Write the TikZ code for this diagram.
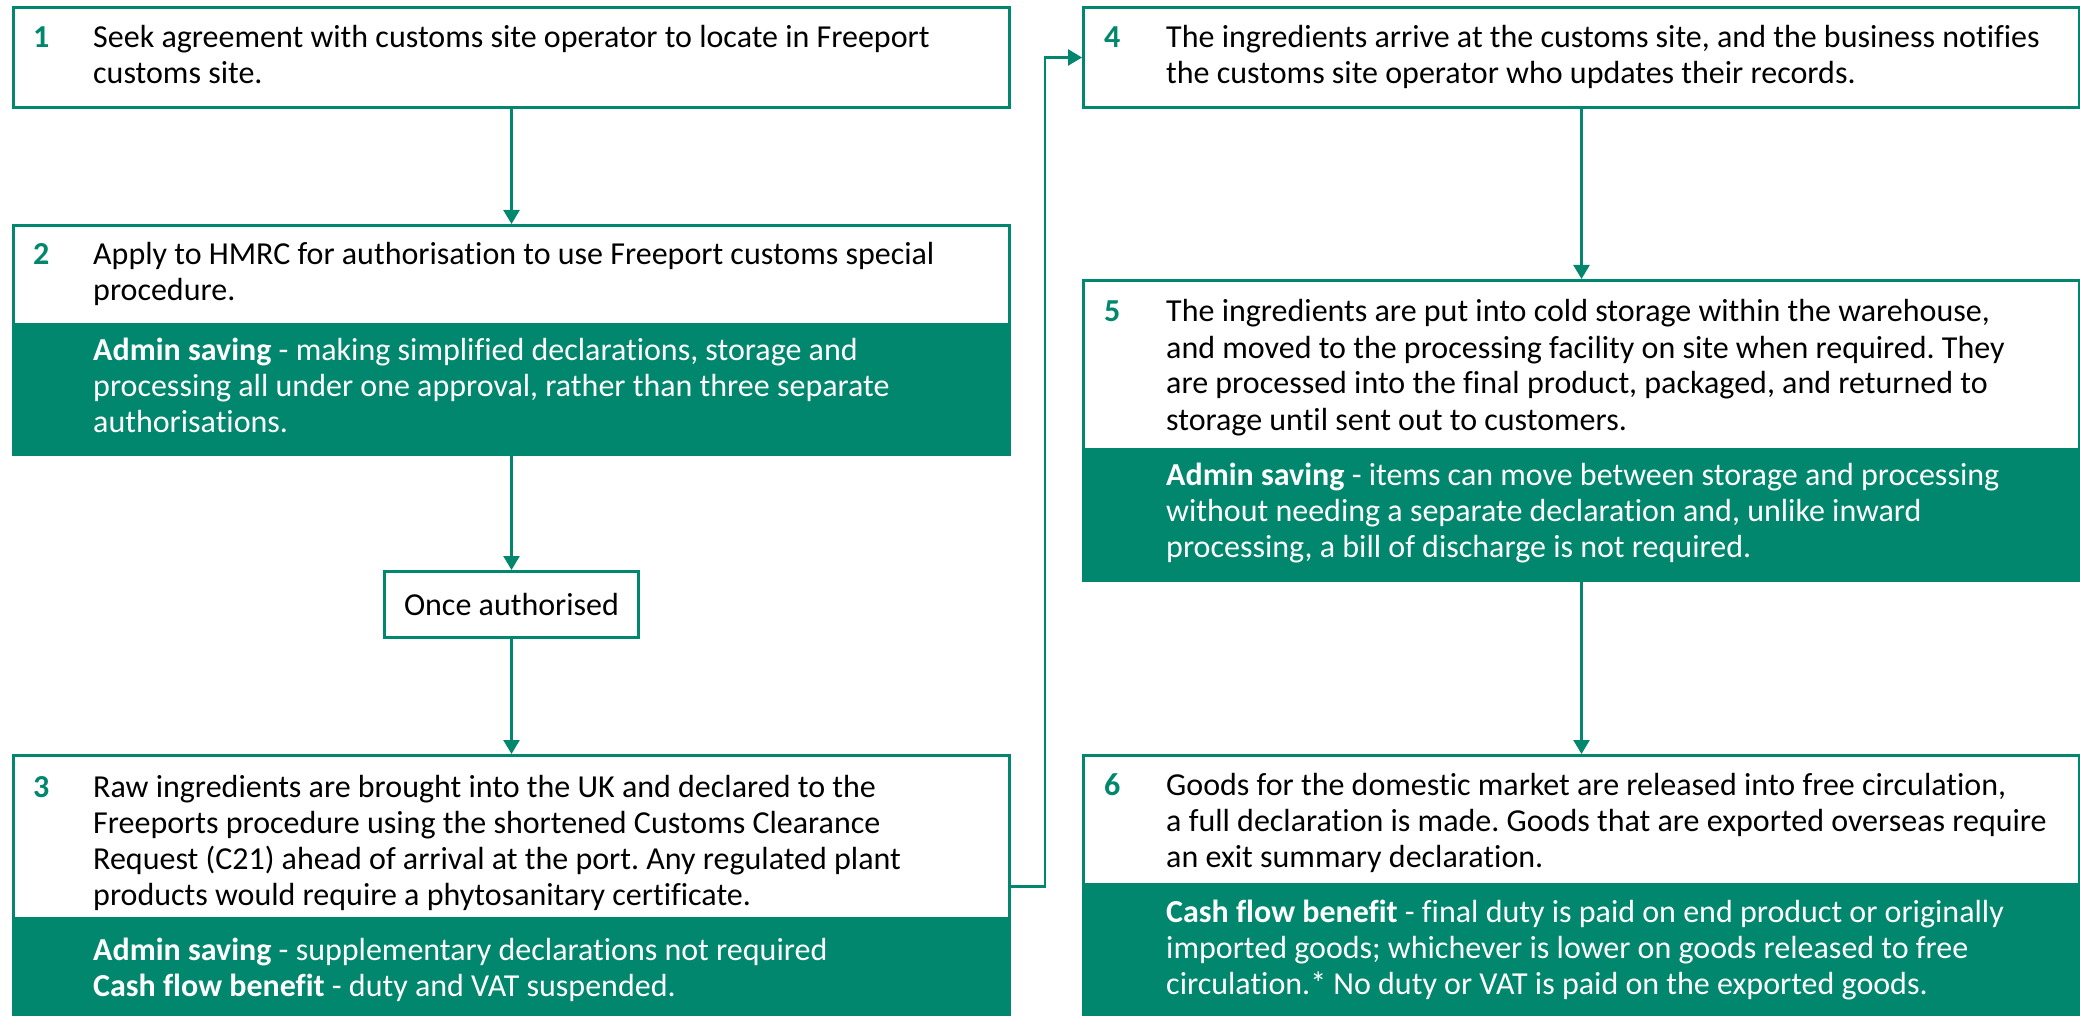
\documentclass[tikz,border=0pt]{standalone}
\usepackage{fontspec}
\setmainfont[Ligatures={NoCommon}]{Carlito}
\usetikzlibrary{arrows.meta,calc}
\definecolor{hg}{HTML}{00876D}
\frenchspacing
\tikzset{
  box/.style={draw=hg, line width=3pt, fill=white, inner sep=0pt, anchor=north west},
  gpart/.style={draw=hg, line width=3pt, fill=hg, inner sep=0pt, anchor=north west},
  txt/.style={inner sep=0pt, anchor=base west, font=\fontsize{32}{36}\selectfont},
  num/.style={inner sep=0pt, anchor=base west, text=hg, font=\fontsize{32}{36}\selectfont\bfseries},
  wtxt/.style={txt, text=white},
  conn/.style={draw=hg, line width=2.5pt, -{Triangle[width=16pt,length=14pt]}}
}
\newcommand{\tl}[1]{\parbox[t]{960pt}{\fontsize{32}{36}\selectfont\raggedright\frenchspacing #1}}
\begin{document}
\begin{tikzpicture}[x=1pt,y=-1pt]
\useasboundingbox (0,0) rectangle (2080,1016);
% Box 1
\node[box, minimum width=996pt, minimum height=100pt] (b1) at (12,6) {};
\node[num] (n1) at (33,48) {1};
\node[txt] (t1) at (93,48) {\tl{Seek agreement with customs site operator to locate in Freeport\\customs site.}};
% Box 2
\node[box, minimum width=996pt, minimum height=229pt] (b2) at (12,224) {};
\node[gpart, minimum width=996pt, minimum height=130pt] (g2) at (12,323) {};
\node[num] (n2) at (33,265) {2};
\node[txt] (t2) at (93,265) {\tl{Apply to HMRC for authorisation to use Freeport customs special\\procedure.}};
\node[wtxt] (w2) at (93,360) {\tl{\textbf{Admin saving} - making simplified declarations, storage and\\processing all under one approval, rather than three separate\\authorisations.}};
% Once authorised
\node[box, minimum width=254pt, minimum height=66pt] (oa) at (383,570) {};
\node[inner sep=0pt, font=\fontsize{32}{36}\selectfont] (oat) at (oa.center) {Once authorised};
% Box 3
\node[box, minimum width=996pt, minimum height=262pt] (b3) at (12,754) {};
\node[gpart, minimum width=996pt, minimum height=105pt] (g3) at (12,917) {};
\node[num] (n3) at (33,797) {3};
\node[txt] (t3) at (93,797) {\tl{Raw ingredients are brought into the UK and declared to the\\Freeports procedure using the shortened Customs Clearance\\Request (C21) ahead of arrival at the port. Any regulated plant\\products would require a phytosanitary certificate.}};
\node[wtxt] (w3) at (93,960) {\tl{\textbf{Admin saving} - supplementary declarations not required\\\textbf{Cash flow benefit} - duty and VAT suspended.}};
% Box 4
\node[box, minimum width=996pt, minimum height=100pt] (b4) at (1082,6) {};
\node[num] (n4) at (1104,48) {4};
\node[txt] (t4) at (1166,48) {\tl{The ingredients arrive at the customs site, and the business notifies\\the customs site operator who updates their records.}};
% Box 5
\node[box, minimum width=996pt, minimum height=300pt] (b5) at (1082,279) {};
\node[gpart, minimum width=996pt, minimum height=131pt] (g5) at (1082,448) {};
\node[num] (n5) at (1104,322) {5};
\node[txt] (t5) at (1166,322) {\tl{The ingredients are put into cold storage within the warehouse,\\and moved to the processing facility on site when required. They\\are processed into the final product, packaged, and returned to\\storage until sent out to customers.}};
\node[wtxt] (w5) at (1166,485) {\tl{\textbf{Admin saving} - items can move between storage and processing\\without needing a separate declaration and, unlike inward\\processing, a bill of discharge is not required.}};
% Box 6
\node[box, minimum width=996pt, minimum height=262pt] (b6) at (1082,754) {};
\node[gpart, minimum width=996pt, minimum height=133pt] (g6) at (1082,883) {};
\node[num] (n6) at (1104,795) {6};
\node[txt] (t6) at (1166,795) {\tl{Goods for the domestic market are released into free circulation,\\a full declaration is made. Goods that are exported overseas require\\an exit summary declaration.}};
\node[wtxt] (w6) at (1166,922) {\tl{\textbf{Cash flow benefit} - final duty is paid on end product or originally\\imported goods; whichever is lower on goods released to free\\circulation.* No duty or VAT is paid on the exported goods.}};
% Connectors
\draw[conn] (b1.south) -- (b2.north);
\draw[conn] (b2.south) -- (oa.north);
\draw[conn] (oa.south) -- (b3.north);
\draw[conn] (b4.south) -- (b5.north);
\draw[conn] (b5.south) -- (b6.north);
\coordinate (k) at (1045,883);
\draw[conn] (b3.east) -- (b3.east -| k) |- (b4.west);
\end{tikzpicture}
\end{document}
